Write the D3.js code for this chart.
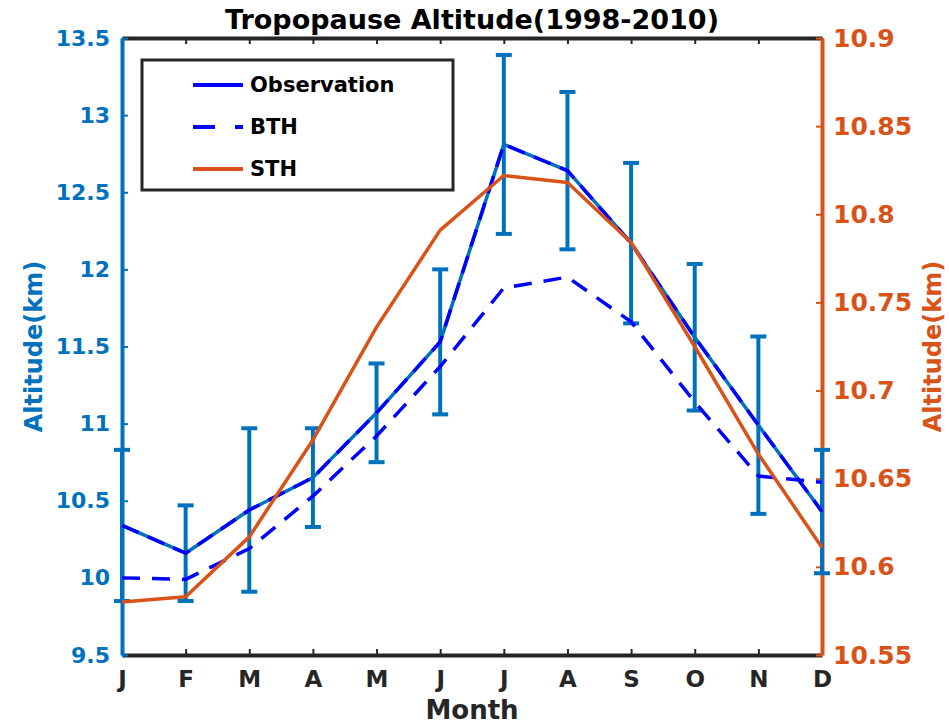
<!DOCTYPE html>
<html>
<head>
<meta charset="utf-8">
<script src="https://cdn.jsdelivr.net/npm/d3@7"></script>
<style>
  html, body { margin: 0; padding: 0; background: #fff; }
  svg { display: block; }
  text { font-family: "DejaVu Sans", sans-serif; font-weight: bold; }
</style>
</head>
<body>
<svg id="chart" width="949" height="727"></svg>
<script>
// ---- data ----
const monthLabels = ["J","F","M","A","M","J","J","A","S","O","N","D"];
const monthIndex = [1,2,3,4,5,6,7,8,9,10,11,12];
const observation = [10.34, 10.16, 10.44, 10.65, 11.07, 11.53, 12.81, 12.64, 12.17, 11.56, 10.99, 10.43];
const obsError    = [0.49, 0.31, 0.53, 0.32, 0.32, 0.47, 0.58, 0.51, 0.52, 0.475, 0.575, 0.40];
const bth = [10.00, 9.99, 10.19, 10.53, 10.92, 11.37, 11.88, 11.95, 11.66, 11.14, 10.66, 10.62];
const sth = [10.580, 10.583, 10.617, 10.672, 10.736, 10.791, 10.822, 10.818, 10.784, 10.725, 10.664, 10.611];
const leftTicks = [9.5, 10, 10.5, 11, 11.5, 12, 12.5, 13, 13.5];
const rightTicks = [10.55, 10.6, 10.65, 10.7, 10.75, 10.8, 10.85, 10.9];
const legendNames = ["Observation", "BTH", "STH"];

// ---- layout ----
const C_LEFT = "#0072BD", C_RIGHT = "#D95319", C_BLUE = "#0000FF", C_AX = "#262626";
const L = 122, R = 822, T = 38, B = 655;
const svg = d3.select("#chart");

const x = d3.scaleLinear().domain([1, 12]).range([L, R]);
const yL = d3.scaleLinear().domain([9.5, 13.5]).range([B, T]);
const yR = d3.scaleLinear().domain([10.55, 10.9]).range([B, T]);
const fmt = v => String(+v.toFixed(2));

// Top and bottom axes (black)
const bottomAxis = d3.axisBottom(x).tickValues(monthIndex)
  .tickFormat((d, i) => monthLabels[i]).tickSizeInner(-6).tickSizeOuter(0).tickPadding(16);
const gb = svg.append("g").attr("transform", `translate(0,${B})`).call(bottomAxis);
gb.select(".domain").attr("stroke", C_AX).attr("stroke-width", 4);
gb.selectAll(".tick line").attr("stroke", C_AX).attr("stroke-width", 2);
gb.selectAll(".tick text").attr("fill", C_AX).style("font-size", "23px");

const topAxis = d3.axisTop(x).tickValues(monthIndex).tickFormat("").tickSizeInner(-6).tickSizeOuter(0);
const gt = svg.append("g").attr("transform", `translate(0,${T})`).call(topAxis);
gt.select(".domain").attr("stroke", C_AX).attr("stroke-width", 4);
gt.selectAll(".tick line").attr("stroke", C_AX).attr("stroke-width", 2);

// Left axis
const leftAxis = d3.axisLeft(yL).tickValues(leftTicks).tickFormat(fmt)
  .tickSizeInner(-6).tickSizeOuter(0).tickPadding(12);
const gl = svg.append("g").attr("transform", `translate(${L},0)`).call(leftAxis);
gl.select(".domain").attr("stroke", C_LEFT).attr("stroke-width", 4);
gl.selectAll(".tick line").attr("stroke", C_LEFT).attr("stroke-width", 2);
gl.selectAll(".tick text").attr("fill", C_LEFT).style("font-size", "22px");

// Right axis
const rightAxis = d3.axisRight(yR).tickValues(rightTicks).tickFormat(fmt)
  .tickSizeInner(-6).tickSizeOuter(0).tickPadding(11);
const gr = svg.append("g").attr("transform", `translate(${R},0)`).call(rightAxis);
gr.select(".domain").attr("stroke", C_RIGHT).attr("stroke-width", 4);
gr.selectAll(".tick line").attr("stroke", C_RIGHT).attr("stroke-width", 2);
gr.selectAll(".tick text").attr("fill", C_RIGHT).style("font-size", "25px");

// Error bars
const eb = svg.append("g");
monthIndex.forEach((m, i) => {
  const cx = x(m), y1 = yL(observation[i] + obsError[i]), y2 = yL(observation[i] - obsError[i]);
  eb.append("line").attr("x1", cx).attr("x2", cx).attr("y1", y1).attr("y2", y2)
    .attr("stroke", C_LEFT).attr("stroke-width", 4);
  [y1, y2].forEach(yy => eb.append("line").attr("x1", cx - 8).attr("x2", cx + 8)
    .attr("y1", yy).attr("y2", yy).attr("stroke", C_LEFT).attr("stroke-width", 4));
});

// Observation line
const lineL = d3.line().x((d, i) => x(monthIndex[i])).y(d => yL(d));
svg.append("path").datum(observation).attr("d", lineL).attr("fill", "none")
  .attr("stroke", C_LEFT).attr("stroke-width", 3.5).attr("stroke-linejoin", "round");
svg.append("path").datum(observation).attr("d", lineL).attr("fill", "none")
  .attr("stroke", C_BLUE).attr("stroke-width", 3.5).attr("stroke-dasharray", "18,10").attr("stroke-linejoin", "round");

// BTH dashed
svg.append("path").datum(bth).attr("d", lineL).attr("fill", "none")
  .attr("stroke", C_BLUE).attr("stroke-width", 3.5).attr("stroke-dasharray", "18,12");

// STH on right axis
const lineR = d3.line().x((d, i) => x(monthIndex[i])).y(d => yR(d));
svg.append("path").datum(sth).attr("d", lineR).attr("fill", "none")
  .attr("stroke", C_RIGHT).attr("stroke-width", 3.5).attr("stroke-linejoin", "round");

// Title and axis labels
svg.append("text").attr("x", 472).attr("y", 29).attr("text-anchor", "middle")
  .attr("fill", "#000").style("font-size", "27px").text("Tropopause Altitude(1998-2010)");
svg.append("text").attr("x", 472).attr("y", 719).attr("text-anchor", "middle")
  .attr("fill", C_AX).style("font-size", "26px").text("Month");
svg.append("text").attr("transform", `translate(42,${(T + B) / 2}) rotate(-90)`)
  .attr("text-anchor", "middle").attr("fill", C_LEFT).style("font-size", "24px").text("Altitude(km)");
svg.append("text").attr("transform", `translate(941,${(T + B) / 2}) rotate(-90)`)
  .attr("text-anchor", "middle").attr("fill", C_RIGHT).style("font-size", "24px").text("Altitude(km)");

// Legend
const lg = svg.append("g");
lg.append("rect").attr("x", 142).attr("y", 60).attr("width", 311).attr("height", 130)
  .attr("fill", "#fff").attr("stroke", C_AX).attr("stroke-width", 3);
const legendStyles = [
  { color: C_BLUE, dash: null },
  { color: C_BLUE, dash: "22,20" },
  { color: C_RIGHT, dash: null }
];
legendNames.forEach((name, i) => {
  const yy = 85 + i * 42;
  const ln = lg.append("line").attr("x1", 193).attr("x2", 243).attr("y1", yy).attr("y2", yy)
    .attr("stroke", legendStyles[i].color).attr("stroke-width", 4);
  if (legendStyles[i].dash) ln.attr("stroke-dasharray", legendStyles[i].dash);
  lg.append("text").attr("x", 250).attr("y", yy).attr("dy", "0.35em")
    .attr("fill", "#000").style("font-size", "21px").text(name);
});
</script>
</body>
</html>
